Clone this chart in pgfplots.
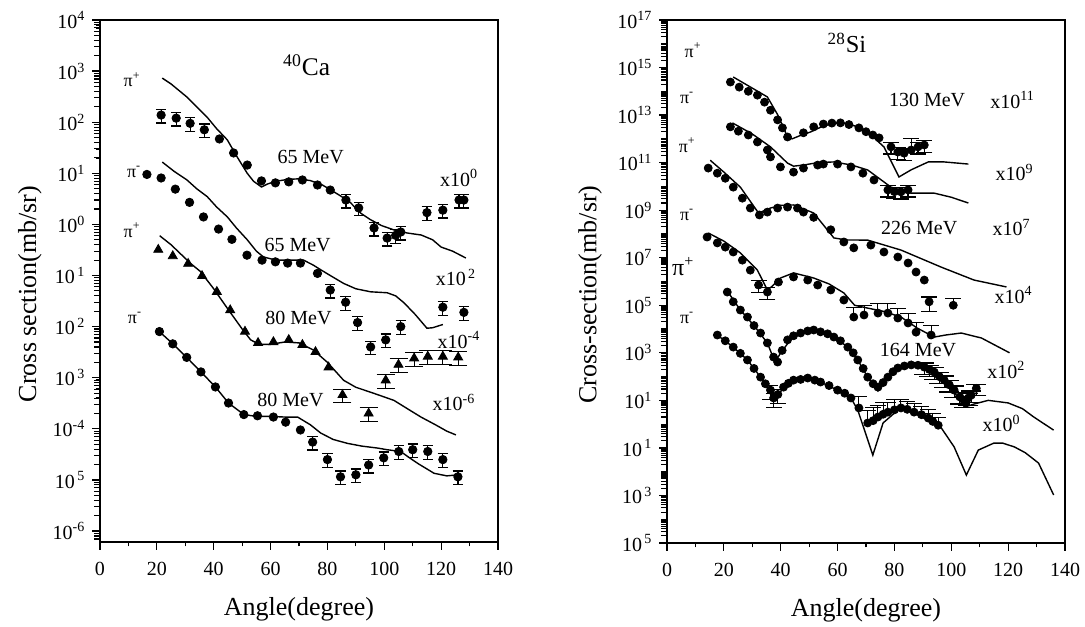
\documentclass[border=0pt]{standalone}
\usepackage{fontspec}
\setmainfont{Liberation Serif}
\usepackage{pgfplots}
\pgfplotsset{compat=1.18}

% small tick lists for the two log axes
\def\lminor{7e-7,8e-7,9e-7}
\foreach \ex in {-6,...,3}{\foreach \mm in {2,...,9}{\xdef\lminor{\lminor,\mm e\ex}}}
\def\rminor{1e-4}
\foreach \ex in {-5,...,16}{\foreach \mm in {2,...,9}{\xdef\rminor{\rminor,\mm e\ex}}}
\foreach \ex in {-2,0,...,16}{\xdef\rminor{\rminor,1e\ex}}

\pgfplotsset{
  mydots/.style={only marks, mark=*, mark size=2.1pt, black},
  mysdots/.style={only marks, mark=*, mark size=2pt, black},
  mytris/.style={only marks, mark=triangle*, mark size=2.6pt, black},
  mytheory/.style={black, line width=0.7pt, no marks},
  myebar/.style={error bars/y dir=both, error bars/y explicit relative,
    error bars/error bar style={line width=0.6pt},
    error bars/error mark options={rotate=90, mark size=#1, line width=0.6pt}},
  myebar/.default=2.6pt,
  myebarp/.style={error bars/y dir=plus, error bars/y explicit relative,
    error bars/error bar style={line width=0.5pt},
    error bars/error mark options={rotate=90, mark size=#1, line width=0.5pt}},
  myebarp/.default=4pt,
}
\tikzset{
  ann/.style={font=\fontsize{10}{12}\selectfont},
  pil/.style={font=\fontsize{9}{11}\selectfont},
}

\def\axisA#1{\begin{axis}[ymode=log, scale only axis, width=199pt, height=261pt,
  at={(0,0)}, anchor=south west,
  xmin=0, xmax=140, ymin=6.1e-7, ymax=1e4,
  xtick={0,20,40,60,80,100,120,140}, xticklabels={0,20,40,60,80,100,120,140},
  minor xtick={10,30,50,70,90,110,130},
  ytick={1e-6,1e-5,1e-4,1e-3,1e-2,1e-1,1,1e1,1e2,1e3,1e4},
  yticklabels={10\textsuperscript{-6},10\textsuperscript{\,5},10\textsuperscript{-4},10\textsuperscript{\,3},10\textsuperscript{\,2},10\textsuperscript{\,1},10\textsuperscript{0},10\textsuperscript{1},10\textsuperscript{2},10\textsuperscript{3},10\textsuperscript{4}},
  extra y ticks={#1}, extra y tick labels={},
  extra y tick style={major tick length=2.8pt, tick style={line width=0.55pt}},
  tick align=outside, xtick pos=left, ytick pos=left,
  major tick length=3.8pt, minor tick length=2.2pt,
  every tick/.style={black, line width=0.6pt},
  axis line style={line width=0.7pt},
  ticklabel style={font=\fontsize{10}{12}\selectfont},
  xticklabel style={yshift=-3pt},
  label style={font=\fontsize{13}{15}\selectfont},
  xlabel={Angle(degree)},
  xlabel style={at={(axis description cs:0.5,0)}, anchor=center, yshift=-33.5pt},
  ylabel={Cross section(mb/sr)},
  ylabel style={at={(axis description cs:-0.176,0.475)}, anchor=center},
]}
\def\axisB#1{\begin{axis}[ymode=log, scale only axis, width=199pt, height=261.5pt,
  at={(283.5pt,-0.5pt)}, anchor=south west,
  xmin=0, xmax=140, ymin=1e-5, ymax=1e17,
  xtick={0,20,40,60,80,100,120,140}, xticklabels={0,20,40,60,80,100,120,140},
  minor xtick={10,30,50,70,90,110,130},
  ytick={1e-5,1e-3,1e-1,1e1,1e3,1e5,1e7,1e9,1e11,1e13,1e15,1e17},
  yticklabels={10\textsuperscript{\,5},10\textsuperscript{\,3},10\textsuperscript{\,1},10\textsuperscript{1},10\textsuperscript{3},10\textsuperscript{5},10\textsuperscript{7},10\textsuperscript{9},10\textsuperscript{11},10\textsuperscript{13},10\textsuperscript{15},10\textsuperscript{17}},
  extra y ticks={#1}, extra y tick labels={},
  extra y tick style={major tick length=2.8pt, tick style={line width=0.55pt}},
  tick align=outside, xtick pos=left, ytick pos=left,
  major tick length=3.8pt, minor tick length=2.2pt,
  every tick/.style={black, line width=0.6pt},
  axis line style={line width=0.7pt},
  ticklabel style={font=\fontsize{10}{12}\selectfont},
  xticklabel style={yshift=-3pt},
  label style={font=\fontsize{13}{15}\selectfont},
  xlabel={Angle(degree)},
  xlabel style={at={(axis description cs:0.5,0)}, anchor=center, yshift=-33.5pt},
  ylabel={Cross-section(mb/sr)},
  ylabel style={at={(axis description cs:-0.193,0.475)}, anchor=center},
]}

\begin{document}
\begin{tikzpicture}
% ---------------- 40Ca ----------------
\expandafter\axisA\expandafter{\lminor}
% pi+ 65 MeV x10^0
\addplot[mytheory] coordinates {(21.9,730) (25,560) (30.6,310) (34,200) (37.7,125) (41,75) (44.8,45) (48,22) (51.8,10) (54,7) (56.8,5.4) (59,6.2) (62,7) (66,7.6) (70,7.8) (74,7.2) (78,6.0) (81,4.8) (85,3.5) (88,2.7) (91.7,1.66) (95,1.25) (99,0.95) (103.4,0.78) (108,0.68) (113,0.62) (117,0.5) (120,0.36) (124,0.3) (128.7,0.22)};
\addplot[mydots] coordinates {(42,47) (47,25) (51.8,14.5) (56.8,7.1) (61.7,6.5) (66.4,6.8) (71.2,7.4) (76.5,5.9) (81,4.7)};
\addplot[mydots, myebar] coordinates {(21.5,138) +- (0,0.3) (26.8,120) +- (0,0.3) (31.7,95) +- (0,0.3) (36.7,71) +- (0,0.3) (86.5,3.0) +- (0,0.3) (91,2.1) +- (0,0.3) (96.4,0.85) +- (0,0.3) (101,0.54) +- (0,0.3) (104,0.61) +- (0,0.3) (105.8,0.71) +- (0,0.3) (115,1.7) +- (0,0.3) (120.6,1.9) +- (0,0.3) (126.3,3.0) +- (0,0.3) (128,3.0) +- (0,0.3)};
% pi- 65 MeV x10^2
\addplot[mytheory] coordinates {(21.9,16.6) (26,11) (30.6,7.4) (34,5) (37.7,3.5) (41,2.2) (44.8,1.4) (48,0.85) (51.8,0.5) (55,0.3) (57.5,0.23) (62,0.2) (66,0.2) (71.6,0.2) (75,0.16) (77.6,0.13) (81,0.1) (85.7,0.07) (90,0.055) (95.2,0.048) (101,0.046) (104,0.04) (107,0.029) (111,0.017) (115,0.0093) (117,0.0095) (120.6,0.011)};
\addplot[mydots] coordinates {(16.5,9.5) (21.5,8.1) (26.5,4.9) (31.5,2.7) (36.4,1.4) (41.7,0.81) (46.4,0.51) (51.7,0.25) (57,0.2) (61.7,0.185) (66,0.175) (70.5,0.175) (76.5,0.11)};
\addplot[mydots, myebar] coordinates {(81,0.052) +- (0,0.3) (86.4,0.03) +- (0,0.3) (90.6,0.012) +- (0,0.3) (95.2,0.004) +- (0,0.3) (100.5,0.0055) +- (0,0.3) (105.8,0.01) +- (0,0.3) (120.6,0.024) +- (0,0.3) (128,0.019) +- (0,0.3)};
% pi+ 80 MeV x10^-4
\addplot[mytheory] coordinates {(21,0.6) (25,0.4) (28.2,0.27) (32,0.17) (35.3,0.12) (40,0.055) (45,0.022) (50,0.009) (53,0.0055) (56,0.0045) (60,0.0045) (65,0.005) (70,0.0048) (75,0.0035) (80,0.002) (85.7,8.9e-4) (90,6.5e-4) (95.2,5.2e-4) (100,4.2e-4) (103.4,3.6e-4) (108,2.5e-4) (112.9,1.7e-4) (118,1.2e-4) (122,9e-5) (125.2,7.6e-5)};
\addplot[mytris] coordinates {(20.5,0.32) (25.6,0.24) (31,0.17) (35.9,0.098) (41.1,0.048) (45.8,0.021) (51,0.008) (55.6,0.0048) (61,0.005) (66.4,0.0055) (71.2,0.0044) (75.8,0.0032) (80.4,0.0016)};
\addplot[mytris, myebar=4.5pt] coordinates {(85.3,4.6e-4) +- (0,0.3) (94.5,2.0e-4) +- (0,0.3) (100.5,8.9e-4) +- (0,0.3) (105,1.8e-3) +- (0,0.3) (110.5,2.4e-3) +- (0,0.3) (115.3,2.6e-3) +- (0,0.3) (120.6,2.6e-3) +- (0,0.3) (126,2.5e-3) +- (0,0.3)};
% pi- 80 MeV x10^-6
\addplot[mytheory] coordinates {(20.9,0.008) (25.6,0.0046) (30.5,0.0025) (35.5,0.0013) (40.6,6.6e-4) (45.2,3.2e-4) (50.6,1.9e-4) (55,1.75e-4) (60,1.75e-4) (65,1.7e-4) (69.5,1.7e-4) (74,1.2e-4) (77.6,8.3e-5) (82,6.2e-5) (87,5.2e-5) (92,4.6e-5) (97.7,4.2e-5) (101,3.9e-5) (105.8,3.6e-5) (108.5,2.8e-5) (111.8,2.1e-5) (117.5,1.35e-5) (122,1.2e-5) (126,1.26e-5)};
\addplot[mydots] coordinates {(20.9,0.008) (25.6,0.0046) (30.5,0.0025) (35.5,0.0013) (40.6,6.6e-4) (45.2,3.2e-4) (50.6,1.9e-4) (55.4,1.8e-4) (61,1.7e-4) (65.3,1.35e-4) (70.5,9.5e-5)};
\addplot[mydots, myebar] coordinates {(74.8,5.5e-5) +- (0,0.3) (80,2.5e-5) +- (0,0.3) (84.6,1.15e-5) +- (0,0.3) (90,1.26e-5) +- (0,0.3) (94.5,1.96e-5) +- (0,0.3) (99.8,2.7e-5) +- (0,0.3) (105.1,3.6e-5) +- (0,0.3) (110,3.9e-5) +- (0,0.3) (115.3,3.6e-5) +- (0,0.3) (120.6,2.5e-5) +- (0,0.3) (125.9,1.15e-5) +- (0,0.3)};
% labels
\node[font=\fontsize{12.7}{14}\selectfont] at (axis cs:72.7,1.3e3) {\textsuperscript{40}Ca};
\node[ann] at (axis cs:74.1,21) {65 MeV};
\node[ann] at (axis cs:69.5,0.4) {65 MeV};
\node[ann] at (axis cs:69.8,0.0148) {80 MeV};
\node[ann] at (axis cs:67,3.6e-4) {80 MeV};
\node[ann] at (axis cs:126.3,8.1) {x10\textsuperscript{0}};
\node[ann] at (axis cs:125.2,0.093) {x10\textsuperscript{\,2}};
\node[ann] at (axis cs:126.3,5.5e-3) {x10\textsuperscript{-4}};
\node[ann] at (axis cs:124.5,3.3e-4) {x10\textsuperscript{-6}};
\node[pil] at (axis cs:11.3,680) {π\textsuperscript{+}};
\node[pil] at (axis cs:12,10.7) {π\textsuperscript{-}};
\node[pil] at (axis cs:11.3,0.78) {π\textsuperscript{+}};
\node[pil] at (axis cs:12.3,0.0148) {π\textsuperscript{-}};
\end{axis}

% ---------------- 28Si ----------------
\expandafter\axisB\expandafter{\rminor}
% pi+ 130 MeV x10^11
\addplot[mytheory] coordinates {(23.3,4e14) (29,1.6e14) (35.3,5.8e13) (39,1e13) (42.4,1.2e12) (44,1e12) (47,1.4e12) (50.5,1.95e12) (55,3.5e12) (61,5e12) (66,3.5e12) (70.6,1.95e12) (76.3,4.6e11) (81.6,2.5e10) (85.9,5e10) (91.9,1.07e11) (97.5,1.07e11) (106,8.7e10)};
\addplot[mysdots] coordinates {(22.3,2.45e14) (25.4,1.5e14) (28.6,1e14) (31.8,6.9e13) (34.3,3.5e13) (36.4,1.6e13) (38.9,6.3e12) (40.6,2.9e12) (42.4,1.2e12) (48,1.8e12) (51.6,3.2e12) (55,4.2e12) (58,4.6e12) (61,4.7e12) (64,4e12) (67.5,2.9e12) (70,2e12) (72.4,1.45e12) (74.6,1.1e12)};
\addplot[mysdots, myebar=4pt] coordinates {(78.8,4.6e11) +- (0,0.5) (81.2,2.8e11) +- (0,0.5) (83.4,2.5e11) +- (0,0.5) (85.9,3.4e11) +- (0,2) (88.3,4.6e11) +- (0,0.5) (90.5,5.5e11) +- (0,0.5)};
% pi- 130 MeV x10^9
\addplot[mytheory] coordinates {(23,4.7e12) (30,1.6e12) (36.4,4.6e11) (42.4,9.5e10) (44.5,7.1e10) (48,7.9e10) (53,1e11) (58.7,1.07e11) (65,7.9e10) (70.6,4.9e10) (78.8,9.3e9) (85.9,5.2e9) (94,5.2e9) (100,3.5e9) (106,2e9)};
\addplot[mysdots] coordinates {(22.3,3.2e12) (25.1,2.1e12) (28.6,1.45e12) (31.8,7.4e11) (35.3,3.4e11) (36.4,1.74e11) (39.9,6.6e10) (44.5,4e10) (48,5.9e10) (53,7.9e10) (55,8.7e10) (60,8.7e10) (64.7,6.6e10) (68.9,3.6e10) (72.8,1.86e10)};
\addplot[mysdots, myebar=4pt] coordinates {(77.7,7.1e9) +- (0,0.5) (80,6e9) +- (0,0.5) (82.3,5.9e9) +- (0,0.5) (84.8,7.1e9) +- (0,0.5)};
% pi+ 226 MeV x10^7
\addplot[mytheory] coordinates {(15.2,1.26e11) (20,4e10) (25.8,9.3e9) (32.2,7.6e8) (36.4,1.23e9) (40,1.6e9) (44.5,1.66e9) (51.6,7.6e8) (58.7,6.8e7) (63,5.6e7) (70.6,5.5e7) (82.3,2.1e7) (96.5,4e6) (108,1.15e6) (119.4,5.9e5)};
\addplot[mysdots] coordinates {(14.5,5.9e10) (17.7,3.6e10) (20.5,2.2e10) (23.3,9.3e9) (26.5,3.2e9) (29.3,1.23e9) (32.5,6.3e8) (35.3,8.3e8) (38.9,1.23e9) (42.4,1.35e9) (45.9,1.23e9) (48,8.3e8) (51.6,5e8) (57.6,1.5e8) (62.2,4.6e7) (65.7,2.6e7) (71.7,3.4e7) (76.3,1.74e7) (81.2,1.07e7) (84.8,6e6) (87.6,2.5e6) (90.5,1.15e6)};
% pi- 226 MeV x10^4
\addplot[mytheory] coordinates {(14.5,1.1e8) (20,5e7) (25.8,1.6e7) (31.8,3e6) (35.3,4.4e5) (37,6.3e5) (39.9,1.4e6) (44.5,2.3e6) (51.6,1.4e6) (57,7.9e5) (62.2,3.3e5) (66,1e5) (70.6,7.6e4) (76,5.6e4) (82.3,3.2e4) (88,1.1e4) (94,4.6e3) (98,5.6e3) (103.5,6.8e3) (110.6,4.2e3) (120.5,1e3)};
\addplot[mysdots] coordinates {(14.1,7.4e7) (17.7,4.2e7) (20.5,2.8e7) (23.3,1.74e7) (26.5,7.9e6) (29.3,3e6) (39.2,9.5e5) (44.5,1.55e6) (49.5,1.15e6) (53,7.1e5) (57.6,4.4e5) (62.2,1.66e5)};
\addplot[mysdots, myebar=4pt] coordinates {(32.2,7.1e5) +- (0,0.5) (35.3,3.6e5) +- (0,0.5) (92.2,1.4e5) +- (0,0.6) (100.7,1e5) +- (0,1)};
\addplot[mysdots, myebarp] coordinates {(65.7,3.2e4) +- (0,1.6) (69.3,3.9e4) +- (0,1.6) (74.2,4.7e4) +- (0,1.6) (77.7,4.7e4) +- (0,1.6) (81.2,2.9e4) +- (0,1.6) (84.8,1.8e4) +- (0,1.6) (87.6,7.4e3) +- (0,1.6) (92.9,5.6e3) +- (0,1.6)};
% pi+ 164 MeV x10^2
\addplot[mytheory] coordinates {(21.2,4e5) (25.8,6.3e4) (30.6,1.4e4) (35.3,2.6e3) (38,4e2) (40,1e3) (44.5,5.2e3) (51.6,9.1e3) (58.7,4.6e3) (63.6,1.74e3) (67.1,5e2) (70.6,95) (74.2,25) (77.7,95) (81.2,2.3e2) (85.9,3.1e2) (90.5,2.5e2) (94,1.55e2) (97.5,71) (101,22) (104.6,5.2) (108,7) (113,10) (120,7.8) (125,4.5) (129,2) (136,0.56)};
\addplot[mysdots] coordinates {(21.2,3.6e5) (23.3,1.4e5) (25.8,6.3e4) (28.3,3.2e4) (30.6,1.4e4) (32.9,6.8e3) (35.3,2.6e3) (37.5,6.6e2) (38.9,4.1e2) (40.5,1.26e3) (42.4,3.5e3) (44.5,5.2e3) (47,6.8e3) (49.5,8.3e3) (51.6,9.1e3) (54,7.6e3) (56.5,6.3e3) (58.7,4.6e3) (61,3.2e3) (63.6,1.74e3) (65.5,1e3) (67.1,5e2) (69,2.2e2) (70.6,95) (72.5,50) (74.2,36) (76,56) (77.7,95) (79.5,1.6e2) (81.2,2.3e2) (83.5,2.8e2) (85.9,3.1e2) (88.3,3e2)};
\addplot[mysdots, myebar=5pt] coordinates {(90.5,2.5e2) +- (0,0.5) (92.3,2e2) +- (0,0.5) (94,1.55e2) +- (0,0.5) (95.8,1e2) +- (0,0.5) (97.5,71) +- (0,0.5) (99.3,45) +- (0,0.5) (101,27) +- (0,0.5) (103,14) +- (0,0.5) (104.6,10) +- (0,0.5) (106,12.6) +- (0,0.5) (107,16.6) +- (0,0.5) (108.8,32) +- (0,0.5)};
% pi- 164 MeV x10^0
\addplot[mytheory] coordinates {(17.7,5.6e3) (23.3,1.74e3) (28.3,5e2) (32.9,95) (36.4,20) (38,10) (41,36) (44.5,71) (49.5,87) (54,59) (60,27) (64.7,12.6) (67.1,3.9) (72.4,0.05) (76,1.12) (81.2,3.9) (84,4.2) (88.3,2.4) (92,1.4) (96.5,0.69) (101,0.11) (105.3,7.2e-3) (109.5,0.081) (115,0.16) (118,0.16) (122.2,0.11) (126,0.063) (130.7,0.023) (136,1.05e-3)};
\addplot[mysdots] coordinates {(17.7,5.6e3) (20.5,3.2e3) (23.3,1.74e3) (25.8,9.5e2) (28.3,5e2) (30.6,2.2e2) (32.9,95) (34.6,50) (41,36) (42.7,52) (44.5,71) (47,76) (49.5,87) (52,71) (54,59) (57,42) (60,27) (62.5,20) (64.7,12.6)};
\addplot[mysdots, myebar=4pt] coordinates {(36.4,27) +- (0,0.6) (37.5,12.6) +- (0,0.6) (39,17.8) +- (0,0.6)};
\addplot[mysdots, myebarp] coordinates {(67.5,4.8) +- (0,2) (70.6,1.12) +- (0,2.5) (72.5,1.4) +- (0,2.5) (74.2,2) +- (0,2) (76,2.6) +- (0,2) (77.7,3.2) +- (0,1.6) (80,4) +- (0,1.6) (82.3,4.8) +- (0,1.2) (84.5,4.2) +- (0,1.2) (86.9,3.2) +- (0,1.2) (89.5,2.5) +- (0,1.2) (91.9,1.8) +- (0,1.2) (93.5,1.3) +- (0,1.2) (95.4,0.9) +- (0,1.2)};
% labels
\node[font=\fontsize{12.2}{14}\selectfont] at (axis cs:63.3,1.07e16) {\textsuperscript{28}Si};
\node[ann] at (axis cs:91.5,4.3e13) {130 MeV};
\node[ann] at (axis cs:121.6,4.3e13) {x10\textsuperscript{11}};
\node[ann] at (axis cs:122.3,4e10) {x10\textsuperscript{9}};
\node[ann] at (axis cs:88.7,1.8e8) {226 MeV};
\node[ann] at (axis cs:121.2,1.8e8) {x10\textsuperscript{7}};
\node[ann] at (axis cs:121.9,2.7e5) {x10\textsuperscript{4}};
\node[ann] at (axis cs:88.3,1.3e3) {164 MeV};
\node[ann] at (axis cs:119.4,190) {x10\textsuperscript{2}};
\node[ann] at (axis cs:117.7,1.1) {x10\textsuperscript{0}};
\node[pil] at (axis cs:9.2,5.5e15) {π\textsuperscript{+}};
\node[pil] at (axis cs:7.1,5.2e13) {π\textsuperscript{-}};
\node[pil] at (axis cs:7.1,5.5e11) {π\textsuperscript{+}};
\node[pil] at (axis cs:7.1,6.3e8) {π\textsuperscript{-}};
\node[font=\fontsize{12}{14}\selectfont] at (axis cs:5.7,4.1e6) {π\textsuperscript{+}};
\node[pil] at (axis cs:7.1,2.9e4) {π\textsuperscript{-}};
\end{axis}
\pgfresetboundingbox
\path[use as bounding box] (-50pt,-42pt) rectangle (492.5pt,271pt);
\end{tikzpicture}
\end{document}
